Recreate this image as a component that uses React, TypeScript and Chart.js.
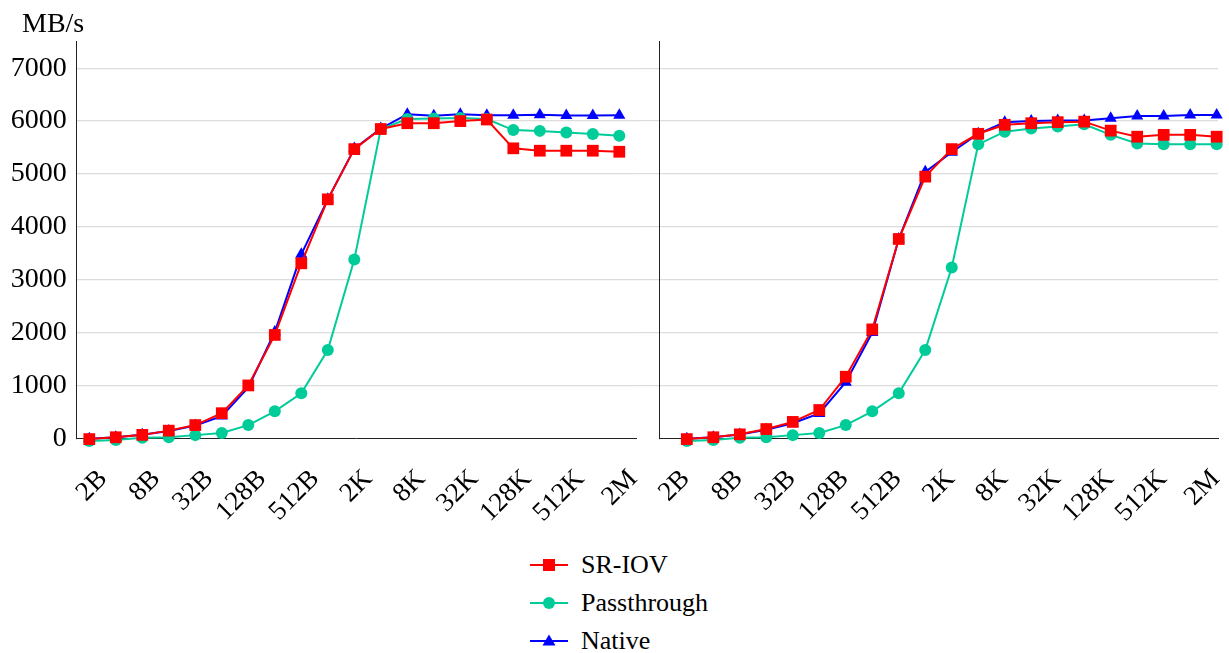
import React, { useEffect, useRef } from 'react';
import { Chart, registerables } from 'chart.js';

Chart.register(...registerables);

// ---- data ----
const sizes = ['2B', '4B', '8B', '16B', '32B', '64B', '128B', '256B', '512B', '1K', '2K', '4K', '8K', '16K', '32K', '64K', '128K', '256K', '512K', '1M', '2M'];
const xTickValues = [0, 2, 4, 6, 8, 10, 12, 14, 16, 18, 20];
const yTickValues = [0, 1000, 2000, 3000, 4000, 5000, 6000, 7000];
const yUnit = 'MB/s';

const seriesNames = ['SR-IOV', 'Passthrough', 'Native'];
const seriesColors = ['#ff0000', '#00cc99', '#0000ff'];
const pointStyles = ['rect', 'circle', 'triangle'];
const pointRadii = [8.3, 6, 7];

// left panel
const sriovLeft = [-15, 20, 65, 145, 250, 475, 1000, 1955, 3310, 4520, 5470, 5850, 5960, 5960, 6000, 6030, 5485, 5440, 5440, 5440, 5420];
const passLeft = [-50, -30, 10, 20, 60, 100, 250, 510, 850, 1670, 3380, 5850, 6040, 6050, 6060, 6040, 5830, 5815, 5785, 5755, 5725];
const nativeLeft = [-10, 20, 65, 140, 240, 420, 960, 2010, 3480, 4520, 5480, 5860, 6130, 6100, 6130, 6110, 6110, 6120, 6105, 6105, 6110];

// right panel
const sriovRight = [-15, 20, 75, 175, 310, 535, 1165, 2060, 3770, 4950, 5470, 5760, 5930, 5960, 5980, 5990, 5820, 5705, 5740, 5740, 5705];
const passRight = [-50, -30, 10, 20, 60, 100, 250, 510, 850, 1670, 3230, 5560, 5800, 5860, 5900, 5940, 5740, 5575, 5560, 5560, 5560];
const nativeRight = [-10, 20, 70, 160, 285, 470, 1060, 2000, 3770, 5040, 5410, 5760, 5980, 6000, 6010, 6010, 6055, 6095, 6095, 6115, 6115];

const yMin = 0;
const yMax = 7500;

const FONT = '"Liberation Serif", serif';

function makeDatasets(values: number[][]) {
  return values.map((vals, k) => ({
    label: seriesNames[k],
    data: vals.map((v, i) => ({ x: i, y: v })),
    borderColor: seriesColors[k],
    backgroundColor: seriesColors[k],
    borderWidth: 2,
    pointStyle: pointStyles[k],
    pointRadius: pointRadii[k],
    pointHoverRadius: pointRadii[k],
    pointBorderWidth: 0,
    tension: 0,
    clip: false as any,
  }));
}

const unitLabelPlugin = {
  id: 'unitLabel',
  afterDraw(chart: any, _args: any, opts: any) {
    if (!opts || !opts.display) return;
    const ctx = chart.ctx;
    ctx.save();
    ctx.font = `28px ${FONT}`;
    ctx.fillStyle = '#000';
    ctx.textAlign = 'left';
    ctx.textBaseline = 'alphabetic';
    ctx.fillText(opts.text, chart.chartArea.left - 54.7, 32);
    ctx.restore();
  },
};

function buildOptions(isLeft: boolean): any {
  return {
    responsive: false,
    animation: false,
    events: [],
    layout: {
      padding: isLeft
        ? { left: 0, right: 24, top: 41.8, bottom: 0 }
        : { left: 0, right: 11, top: 41.8, bottom: 0 },
    },
    plugins: {
      legend: { display: false },
      tooltip: { enabled: false },
      title: { display: false },
      unitLabel: { display: isLeft, text: yUnit },
    },
    scales: {
      x: {
        type: 'linear',
        min: isLeft ? -0.475 : -1.05,
        max: isLeft ? 20.63 : 20.05,
        grid: { display: false, drawTicks: false },
        border: { display: true, color: '#222', width: 1 },
        afterBuildTicks: (s: any) => {
          s.ticks = xTickValues.map((v) => ({ value: v }));
        },
        ticks: {
          autoSkip: false,
          minRotation: 45,
          maxRotation: 45,
          padding: 25,
          labelOffset: isLeft ? 14 : -1,
          color: '#000',
          font: { family: FONT, size: 27 },
          callback: (v: number) => sizes[v] ?? '',
        },
        afterFit: (s: any) => {
          s.height = 106.7;
          s.paddingLeft = 0;
          s.paddingRight = 0;
        },
      },
      y: {
        min: yMin,
        max: yMax,
        afterBuildTicks: (s: any) => {
          s.ticks = yTickValues.map((v) => ({ value: v }));
        },
        ticks: {
          display: isLeft,
          padding: 10,
          color: '#000',
          font: { family: FONT, size: 28 },
          callback: (v: number) => String(v),
        },
        grid: {
          color: (c: any) => (c.tick && c.tick.value === 0 ? 'rgba(0,0,0,0)' : '#dcdcdc'),
          lineWidth: 1.2,
          drawTicks: !isLeft,
          tickLength: 23,
        },
        border: { display: true, color: '#222', width: 1 },
        afterFit: (s: any) => {
          s.width = isLeft ? 76.7 : 23;
          s.paddingTop = 0;
          s.paddingBottom = 0;
        },
      },
    },
  };
}

function Panel({ values, isLeft, left, width }: { values: number[][]; isLeft: boolean; left: number; width: number }) {
  const ref = useRef<HTMLCanvasElement | null>(null);
  useEffect(() => {
    if (!ref.current) return;
    const chart = new Chart(ref.current, {
      type: 'line',
      data: { datasets: makeDatasets(values) as any },
      options: buildOptions(isLeft),
      plugins: [unitLabelPlugin],
    });
    return () => chart.destroy();
  }, []);
  return (
    <canvas
      ref={ref}
      width={width}
      height={545}
      style={{ position: 'absolute', left, top: 0, width, height: 545, display: 'block' }}
    />
  );
}

function LegendMarker({ k }: { k: number }) {
  const c = seriesColors[k];
  let marker: React.ReactNode = null;
  if (pointStyles[k] === 'rect') marker = <rect x={13} y={4} width={12} height={12} fill={c} />;
  else if (pointStyles[k] === 'circle') marker = <circle cx={19} cy={10} r={6} fill={c} />;
  else marker = <polygon points="19,3.5 25.5,14.5 12.5,14.5" fill={c} />;
  return (
    <svg width={38} height={20} style={{ display: 'block' }}>
      <line x1={0} y1={10} x2={38} y2={10} stroke={c} strokeWidth={2} />
      {marker}
    </svg>
  );
}

export default function App() {
  return (
    <div style={{ position: 'fixed', left: 0, top: 0, width: 1229, height: 653, background: '#fff', overflow: 'hidden' }}>
      <Panel values={[sriovLeft, passLeft, nativeLeft]} isLeft={true} left={0} width={660} />
      <Panel values={[sriovRight, passRight, nativeRight]} isLeft={false} left={636} width={593} />
      {seriesNames.map((name, k) => (
        <div
          key={name}
          style={{
            position: 'absolute',
            left: 530,
            top: 547 + k * 38,
            height: 36,
            display: 'flex',
            alignItems: 'center',
            fontFamily: FONT,
            fontSize: 26,
            color: '#000',
            whiteSpace: 'nowrap',
          }}
        >
          <LegendMarker k={k} />
          <span style={{ marginLeft: 13, lineHeight: '36px' }}>{name}</span>
        </div>
      ))}
    </div>
  );
}
